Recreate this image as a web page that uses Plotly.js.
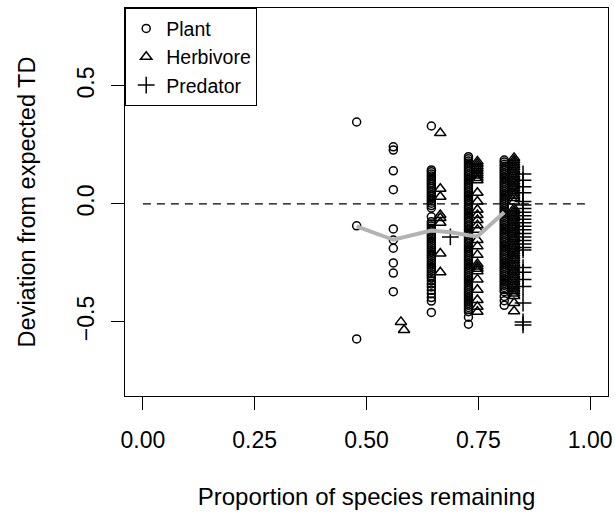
<!DOCTYPE html>
<html>
<head>
<meta charset="utf-8">
<script src="https://cdn.plot.ly/plotly-3.0.1.min.js"></script>
<style>html,body{margin:0;padding:0;background:#fff;}#chart{width:615px;height:522px;}</style>
</head>
<body>
<div id="chart"></div>
<script>
// ---- Data ----
const xTickVals = [0, 0.25, 0.5, 0.75, 1];
const xTickText = ["0.00", "0.25", "0.50", "0.75", "1.00"];
const yTickVals = [-0.5, 0, 0.5];
const yTickText = ["\u22120.5", "0.0", "0.5"];

// Plant (circles): x position of each column and the y values in it
const plantColX = [0.478, 0.56, 0.645, 0.728, 0.808];
const plantA = [0.347, -0.093, -0.572];
const plantB = [0.242, 0.228, 0.14, 0.06, -0.106, -0.153, -0.188, -0.25, -0.293, -0.372];
const plantC = [0.33, 0.144, 0.136, 0.127, 0.118, 0.109, 0.1, 0.091, 0.083, 0.074, 0.065, 0.056, 0.047, 0.038, 0.03, 0.021, 0.012, 0.003, -0.007, -0.017,
  -0.055, -0.076, -0.085, -0.094, -0.103, -0.112, -0.121, -0.131, -0.14, -0.149, -0.158, -0.167, -0.176, -0.186, -0.195, -0.204, -0.213, -0.222, -0.231,
  -0.241, -0.25, -0.259, -0.268, -0.277, -0.286, -0.296, -0.305, -0.314, -0.326, -0.339, -0.352, -0.366, -0.381, -0.397, -0.412, -0.46];
const plantD = [0.2, 0.191, 0.182, 0.173, 0.164, 0.155, 0.146, 0.137, 0.128, 0.119, 0.11, 0.101, 0.092, 0.083, 0.074, 0.065, 0.056, 0.047, 0.038, 0.029,
  0.02, 0.011, 0.002, -0.007, -0.016, -0.025, -0.034, -0.043, -0.052, -0.061, -0.07, -0.079, -0.088, -0.097, -0.106, -0.115, -0.124, -0.133, -0.142,
  -0.151, -0.16, -0.169, -0.178, -0.187, -0.196, -0.205, -0.214, -0.223, -0.232, -0.241, -0.25, -0.259, -0.268, -0.277, -0.286, -0.295, -0.304,
  -0.313, -0.322, -0.331, -0.34, -0.349, -0.358, -0.367, -0.376, -0.385, -0.394, -0.403, -0.412, -0.421, -0.43, -0.439, -0.448, -0.457, -0.48, -0.51];
const plantE = [0.186, 0.177, 0.168, 0.159, 0.15, 0.141, 0.132, 0.123, 0.114, 0.105, 0.096, 0.087, 0.078, 0.069, 0.06, 0.051, 0.042, 0.033, 0.024,
  0.015, 0.006, -0.003, -0.012, -0.021, -0.03, -0.039, -0.048, -0.057, -0.066, -0.075, -0.084, -0.093, -0.102, -0.111, -0.12, -0.129, -0.138,
  -0.147, -0.156, -0.165, -0.174, -0.183, -0.192, -0.201, -0.21, -0.219, -0.228, -0.237, -0.246, -0.255, -0.264, -0.273, -0.282, -0.291, -0.3,
  -0.309, -0.318, -0.327, -0.336, -0.345, -0.354, -0.363, -0.372, -0.392, -0.41, -0.43];

// Herbivore (triangles)
const herbColX = [0.577, 0.584, 0.665, 0.748, 0.83];
const herbA = [-0.5];
const herbB = [-0.534];
const herbC = [0.3, 0.064, 0.03, -0.047, -0.06, -0.08, -0.21, -0.29];
const herbD = [0.18, 0.17, 0.16, 0.15, 0.14, 0.13, 0.12, 0.11, 0.1, 0.047, 0.01, -0.025, -0.047, -0.068, -0.09, -0.11, -0.153, -0.18, -0.216,
  -0.255, -0.265, -0.275, -0.285, -0.32, -0.364, -0.407, -0.436, -0.457];
const herbE = [0.195, 0.185, 0.175, 0.165, 0.155, 0.145, 0.135, 0.125, 0.115, 0.105, 0.095, 0.085, 0.075, 0.065, 0.055, 0.045, 0.035, 0.025, 0.01,
  -0.02, -0.03, -0.04, -0.05, -0.06, -0.07, -0.08, -0.09, -0.1, -0.11, -0.12, -0.13, -0.14, -0.15, -0.16, -0.17, -0.18, -0.19, -0.2, -0.21, -0.22,
  -0.23, -0.24, -0.25, -0.26, -0.27, -0.28, -0.29, -0.3, -0.31, -0.32, -0.33, -0.34, -0.35, -0.36, -0.37, -0.38, -0.39, -0.42, -0.455];

// Predator (plus signs)
const predColX = [0.6875, 0.85];
const predA = [-0.14];
const predB = [0.127, 0.1, 0.073, 0.047, 0.01, -0.005, -0.02, -0.035, -0.05, -0.065, -0.08, -0.095, -0.11, -0.125, -0.14, -0.155, -0.17,
  -0.185, -0.195, -0.27, -0.29, -0.32, -0.35, -0.42, -0.5, -0.513];

// Smoothed trend (grey line)
const trendX = [0.478, 0.56, 0.645, 0.6875, 0.728, 0.748, 0.808];
const trendY = [-0.095, -0.152, -0.113, -0.12, -0.133, -0.138, -0.035];

// Reference line at zero
const refX = [0, 1];
const refY = [0, 0];

// ---- Build traces ----
function expand(colX, cols) {
  const xs = [], ys = [];
  cols.forEach((vals, i) => vals.forEach(v => { xs.push(colX[i]); ys.push(v); }));
  return {x: xs, y: ys};
}
const plant = expand(plantColX, [plantA, plantB, plantC, plantD, plantE]);
const herb = expand(herbColX, [herbA, herbB, herbC, herbD, herbE]);
const pred = expand(predColX, [predA, predB]);

const traces = [
  {x: refX, y: refY, mode: 'lines', line: {color: '#000', width: 1.3, dash: '8px,6px'}, showlegend: false, hoverinfo: 'skip'},
  {x: plant.x, y: plant.y, mode: 'markers', name: 'Plant',
   marker: {symbol: 'circle-open', size: 8, color: '#000', line: {width: 1.5, color: '#000'}}},
  {x: herb.x, y: herb.y, mode: 'markers', name: 'Herbivore',
   marker: {symbol: 'triangle-up-open', size: 10, color: '#000', line: {width: 1.5, color: '#000'}}},
  {x: pred.x, y: pred.y, mode: 'markers', name: 'Predator',
   marker: {symbol: 'cross-thin-open', size: 12, color: '#000', line: {width: 1.5, color: '#000'}}},
  {x: trendX, y: trendY, mode: 'lines', line: {color: '#b3b3b3', width: 4}, showlegend: false, hoverinfo: 'skip'}
];

const font = 'Liberation Sans, Arial, Helvetica, sans-serif';
const layout = {
  width: 615, height: 522,
  margin: {l: 125, r: 7, t: 8, b: 126},
  paper_bgcolor: '#fff', plot_bgcolor: '#fff',
  font: {family: font, color: '#000', size: 23},
  showlegend: true,
  legend: {x: 0, y: 1, xanchor: 'left', yanchor: 'top', bgcolor: '#fff', bordercolor: '#000', borderwidth: 1.2,
           font: {family: font, size: 19.5, color: '#000'}, itemwidth: 30, tracegroupgap: 0},
  xaxis: {range: [-0.04, 1.04], tickvals: xTickVals, ticktext: xTickText, ticks: 'outside', ticklen: 13, tickwidth: 1.2,
          tickcolor: '#000', showline: true, mirror: true, linecolor: '#000', linewidth: 1.2, showgrid: false, zeroline: false,
          tickfont: {size: 23}, ticklabelstandoff: 10,
          title: {text: 'Proportion of species remaining', font: {size: 24}, standoff: 36}},
  yaxis: {range: [-0.814, 0.83], tickvals: yTickVals, ticktext: yTickText, ticks: 'outside', ticklen: 13, tickwidth: 1.2,
          tickcolor: '#000', showline: true, mirror: true, linecolor: '#000', linewidth: 1.2, showgrid: false, zeroline: false,
          tickangle: -90, tickfont: {size: 23}, ticklabelstandoff: 8,
          title: {text: 'Deviation from expected TD', font: {size: 23.5}, standoff: 30}}
};

Plotly.newPlot('chart', traces, layout, {staticPlot: true, displayModeBar: false});
</script>
</body>
</html>
